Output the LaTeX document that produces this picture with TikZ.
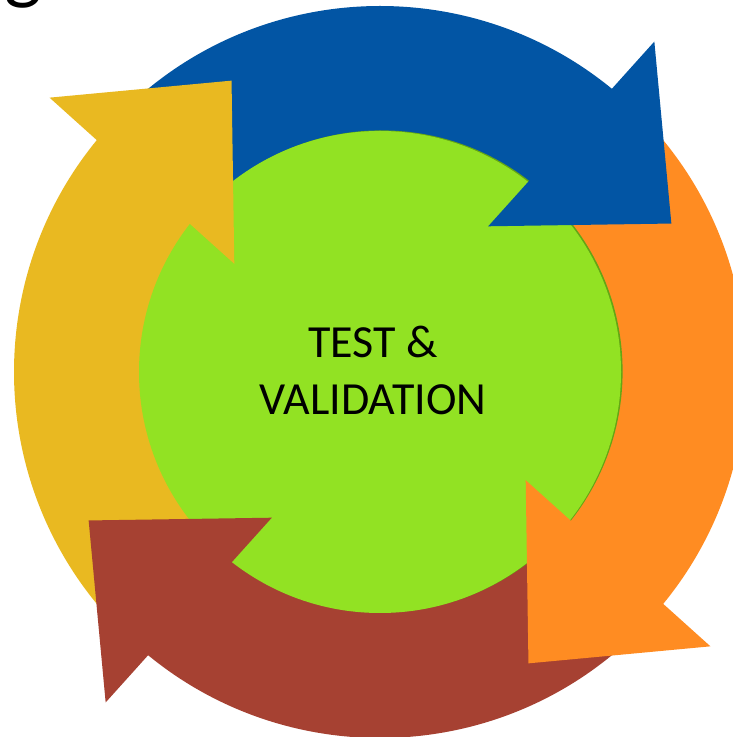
\documentclass[tikz,border=0pt]{standalone}
\usepackage{fontspec}
\setmainfont{Carlito}
\definecolor{cblue}{RGB}{2,85,164}
\definecolor{corange}{RGB}{255,140,34}
\definecolor{cred}{RGB}{166,65,50}
\definecolor{cyellow}{RGB}{233,185,33}
\definecolor{cgreen}{RGB}{146,226,35}
\definecolor{cshadow}{RGB}{100,165,20}
\tikzset{
  ringbody/.pic={
    \fill[pic actions] (135:366) arc[start angle=135, end angle=45, radius=366]
      -- (45:236) arc[start angle=45, end angle=135, radius=236] -- cycle;
  },
  ringhead/.pic={
    \fill[pic actions] (50.3:429.5) -- (27:327) -- (53.4:181.5) -- cycle;
  },
  label/.style={font=\fontsize{46}{57}\selectfont, anchor=base, inner sep=0pt, text=black}
}
\begin{document}
\begin{tikzpicture}[x=1pt,y=1pt]
\useasboundingbox (0,0) rectangle (733,737);
\fill[white] (0,0) rectangle (733,737);
\node[font=\fontsize{80}{80}\selectfont, anchor=south west, inner sep=0pt] (g) at (4,729) {g};
\begin{scope}[shift={(380,365)}]
  \pic[fill=cblue, rotate=0] {ringbody};
  \pic[fill=corange, rotate=-90] {ringbody};
  \pic[fill=cred, rotate=-180] {ringbody};
  \pic[fill=cyellow, rotate=-270] {ringbody};
  \fill[cshadow] (1.6,0.6) circle[radius=241];
  \fill[cgreen] (0,0) circle[radius=241];
  \pic[fill=cblue, rotate=0] {ringhead};
  \pic[fill=corange, rotate=-90] {ringhead};
  \pic[fill=cred, rotate=-180] {ringhead};
  \pic[fill=cyellow, rotate=-270] {ringhead};
\end{scope}
\node[label] (t1) at (373,379) {TEST \&};
\node[label] (t2) at (373,322) {VALIDATION};
\end{tikzpicture}
\end{document}
